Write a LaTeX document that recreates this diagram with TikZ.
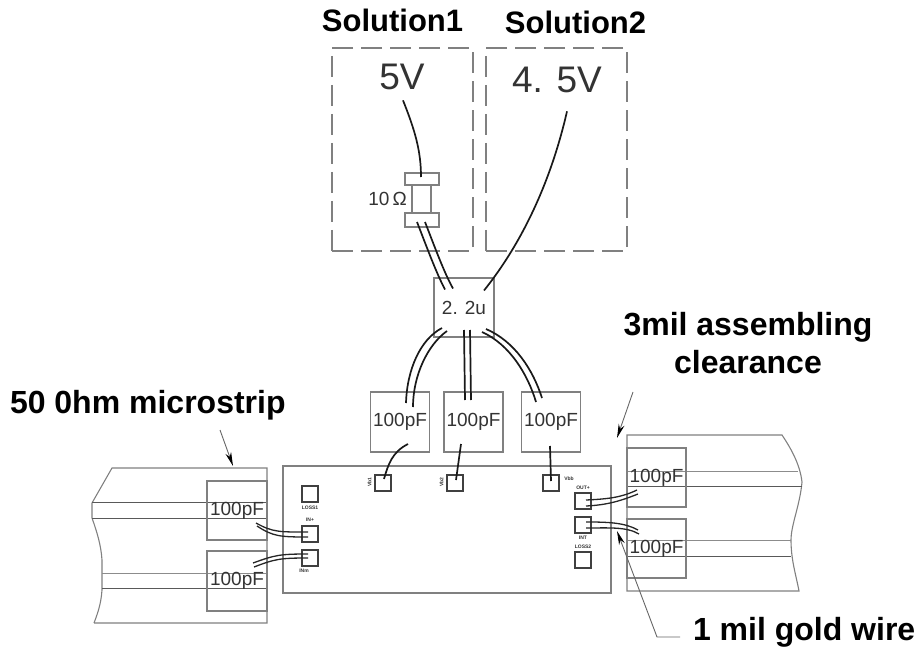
\documentclass[tikz,border=0pt]{standalone}
\usepackage{fontspec}
\setmainfont{Liberation Sans}
\usetikzlibrary{arrows.meta,calc}
\definecolor{linegray}{gray}{0.5}
\definecolor{inkgray}{gray}{0.2}
\tikzset{
  boxline/.style={draw=linegray,line width=1.1pt},
  sizedbox/.style={boxline,rectangle,inner sep=0pt,outer sep=0pt,text=inkgray},
  solbox/.style={sizedbox,dash pattern=on 21pt off 8pt,minimum width=#1,minimum height=203pt},
  capbox/.style={sizedbox,minimum width=59pt,minimum height=60pt,font=\fontsize{19}{21}\selectfont},
  padbox/.style={draw=black!75,line width=1.2pt,rectangle,inner sep=0pt,outer sep=0pt,minimum width=16pt,minimum height=16pt},
  wire/.style={draw=black!90,line width=1.7pt},
  bondwire/.style={draw=black!85,line width=1.3pt},
  strip/.style={draw=black!65,line width=1pt},
  striplight/.style={draw=black!45,line width=1pt},
  callout/.style={draw=black!60,line width=0.9pt,-{Stealth[length=14pt,width=6pt,black]}},
  heading/.style={font=\bfseries\fontsize{32}{38}\selectfont,inner sep=0pt,outer sep=0pt,text=black},
  solhead/.style={font=\bfseries\fontsize{31}{36}\selectfont,inner sep=0pt,outer sep=0pt,text=black,anchor=base},
  valtext/.style={font=\fontsize{37}{40}\selectfont,inner sep=0pt,outer sep=0pt,text=inkgray,anchor=base},
  tiny/.style={font=\bfseries\fontsize{5}{6}\selectfont,inner sep=0pt,outer sep=0pt,text=black!80},
}
\begin{document}
\begin{tikzpicture}[x=1pt,y=-1pt]
\useasboundingbox (0,0) rectangle (918,647);
% headings
\node[solhead] (hsol1) at (392.5,32) {Solution1};
\node[solhead] (hsol2) at (575.5,34) {Solution2};
\node[heading,anchor=base west] (hmicro) at (10,413) {50 0hm microstrip};
\node[heading,anchor=base] (hclear1) at (748,335) {3mil assembling};
\node[heading,anchor=base] (hclear2) at (748,373) {clearance};
\node[heading,anchor=base west] (hgold) at (693,640) {1 mil gold wire};
% solution boxes
\node[solbox=141pt] (sol1) at (402.5,149.5) {};
\node[solbox=141pt] (sol2) at (556.5,149.5) {};
\node[valtext] (v5) at (402,90) {5V};
\node[valtext] (v45) at (557,93) {4. 5V};
% resistor
\node[sizedbox,minimum width=34pt,minimum height=12pt] (rtop) at (422,179) {};
\node[sizedbox,minimum width=34pt,minimum height=14pt] (rbot) at (422,220) {};
\node[sizedbox,minimum width=19pt,minimum height=28pt] (rbody) at (421.5,199) {};
\node[font=\fontsize{19}{21}\selectfont,text=inkgray,inner sep=0pt,anchor=base] (rlab) at (387.5,206) {10\,Ω};
% decoupling caps
\node[sizedbox,minimum width=60pt,minimum height=59pt,font=\fontsize{19}{21}\selectfont] (c22) at (464,307.5) {2. 2u};
\node[capbox] (c1) at (400,422) {100pF};
\node[capbox] (c2) at (473.5,422) {100pF};
\node[capbox] (c3) at (551,422) {100pF};
% chip
\node[sizedbox,minimum width=328pt,minimum height=127pt] (chip) at (447,529.5) {};
\node[padbox] (p1) at (383,483) {};
\node[padbox] (p2) at (455,483) {};
\node[padbox] (p3) at (551,483) {};
\node[padbox] (lossl) at (310,494) {};
\node[padbox] (inp) at (310,534) {};
\node[padbox] (inm) at (310,558) {};
\node[padbox] (outp) at (583,501) {};
\node[padbox] (outm) at (583,525) {};
\node[padbox] (lossr) at (583,560) {};
\node[tiny,rotate=90] at (369.5,482) {Vb1};
\node[tiny,rotate=90] at (441.5,482) {Vb2};
\node[tiny] at (569,479) {Vbb};
\node[tiny] at (310,508) {LOSS1};
\node[tiny] at (310,520) {IN+};
\node[tiny] at (304,571) {INm};
\node[tiny] at (583,488) {OUT+};
\node[tiny] at (583,538) {INT};
\node[tiny] at (583,547) {LOSS2};
% left microstrip
\draw[boxline] (94,623) -- (267,623) -- (267,468) -- (112,468) -- (92,503) -- (92,518)
  .. controls (97,532) and (101,545) .. (102,560) -- (102,590)
  .. controls (101,605) and (97,615) .. (94,623);
\draw[strip] (92,502) -- (267,502);
\draw[strip] (92,518) -- (267,518);
\draw[striplight] (102,573) -- (267,573);
\draw[strip] (102,588) -- (267,588);
\node[capbox,minimum width=60pt,minimum height=59pt] (cl1) at (237,510.5) {100pF};
\node[capbox,minimum width=60pt,minimum height=60pt] (cl2) at (237,581) {100pF};
% right microstrip
\draw[boxline] (627,591) -- (799,591) .. controls (796,575) and (791,560) .. (791,540)
  .. controls (791,525) and (800,505) .. (802,482) .. controls (800,465) and (792,450) .. (782,435) -- (627,435) -- cycle;
\draw[striplight] (627,471) -- (798,471);
\draw[strip] (627,486) -- (802,486);
\draw[striplight] (627,540) -- (791,540);
\draw[strip] (627,556) -- (791,556);
\node[capbox,minimum width=59pt,minimum height=59pt] (cr1) at (656.5,477.5) {100pF};
\node[capbox,minimum width=59pt,minimum height=59pt] (cr2) at (656.5,548.5) {100pF};
% supply wires
\draw[wire] ([shift={(1,10)}]v5.south) .. controls ([shift={(13,40)}]v5.south) and ([shift={(-1,-22)}]rtop.north) .. ([shift={(-1,4)}]rtop.north);
\draw[wire] ([shift={(10,18)}]v45.south) .. controls ([shift={(-7,92)}]v45.south) and ([shift={(56,-62)}]c22.center) .. ([shift={(20,-17)}]c22.center);
\draw[wire] ([shift={(-5,2)}]rbot.center) .. controls ([shift={(4,25)}]rbot.center) and ([shift={(-28,-35)}]c22.center) .. ([shift={(-19,-18)}]c22.center);
\draw[wire] ([shift={(3,2)}]rbot.center) .. controls ([shift={(12,25)}]rbot.center) and ([shift={(-20,-35)}]c22.center) .. ([shift={(-11,-19)}]c22.center);
% decoupling wires
\draw[wire] ([shift={(-22,20.5)}]c22.center) .. controls ([shift={(-44,32)}]c22.center) and ([shift={(7,-52)}]c1.center) .. ([shift={(6,-19)}]c1.center);
\draw[wire] ([shift={(-17,23.5)}]c22.center) .. controls ([shift={(-36,37)}]c22.center) and ([shift={(13,-47)}]c1.center) .. ([shift={(13,-15)}]c1.center);
\draw[wire] ([shift={(0,22.5)}]c22.center) -- ([shift={(-8.5,-22)}]c2.center);
\draw[wire] ([shift={(6,22.5)}]c22.center) -- ([shift={(-2.5,-22)}]c2.center);
\draw[wire] ([shift={(18,24.5)}]c22.center) .. controls ([shift={(46,37)}]c22.center) and ([shift={(-23,-47)}]c3.center) .. ([shift={(-15,-20)}]c3.center);
\draw[wire] ([shift={(22,21.5)}]c22.center) .. controls ([shift={(51,34)}]c22.center) and ([shift={(-18,-52)}]c3.center) .. ([shift={(-9,-24)}]c3.center);
% bias wires
\draw[wire] ([shift={(8,22)}]c1.center) .. controls ([shift={(-8,30)}]c1.center) and ([shift={(5,-18)}]p1.center) .. ([shift={(1,-4)}]p1.center);
\draw[wire] ([shift={(-12.5,22)}]c2.center) -- ([shift={(1,-3)}]p2.center);
\draw[wire] ([shift={(-1,24)}]c3.center) -- ([shift={(0,-2)}]p3.center);
% bond wires
\draw[bondwire] ([shift={(19,12.5)}]cl1.center) .. controls ([shift={(36,22)}]cl1.center) and ([shift={(-30,-2)}]inp.center) .. ([shift={(-2,-2)}]inp.center);
\draw[bondwire] ([shift={(20,15.5)}]cl1.center) .. controls ([shift={(36,26)}]cl1.center) and ([shift={(-30,3)}]inp.center) .. ([shift={(-2,3)}]inp.center);
\draw[bondwire] ([shift={(16,-18)}]cl2.center) .. controls ([shift={(38,-26)}]cl2.center) and ([shift={(-30,-4)}]inm.center) .. ([shift={(-2,-4)}]inm.center);
\draw[bondwire] ([shift={(17,-14)}]cl2.center) .. controls ([shift={(38,-22)}]cl2.center) and ([shift={(-30,0)}]inm.center) .. ([shift={(-2,0)}]inm.center);
\draw[bondwire] ([shift={(-19.5,12.5)}]cr1.center) .. controls ([shift={(-35,20)}]cr1.center) and ([shift={(25,-2)}]outp.center) .. ([shift={(3,-1)}]outp.center);
\draw[bondwire] ([shift={(-18.5,16.5)}]cr1.center) .. controls ([shift={(-35,23)}]cr1.center) and ([shift={(25,4)}]outp.center) .. ([shift={(3,5)}]outp.center);
\draw[bondwire] ([shift={(-18.5,-18.5)}]cr2.center) .. controls ([shift={(-32,-26)}]cr2.center) and ([shift={(25,-3)}]outm.center) .. ([shift={(3,-3)}]outm.center);
\draw[bondwire] ([shift={(-17.5,-14.5)}]cr2.center) .. controls ([shift={(-30,-22)}]cr2.center) and ([shift={(25,3)}]outm.center) .. ([shift={(3,3)}]outm.center);
% callouts
\coordinate (a1s) at (220,430); \coordinate (a1e) at (233,466);
\coordinate (a2s) at (633,392); \coordinate (a2e) at (617,438);
\coordinate (a3s) at (680,637); \coordinate (a3k) at (657,637); \coordinate (a3e) at (617,531);
\draw[callout] (a1s) -- (a1e);
\draw[callout] (a2s) -- (a2e);
\draw[callout] (a3s) -- (a3k) -- (a3e);
\end{tikzpicture}
\end{document}
